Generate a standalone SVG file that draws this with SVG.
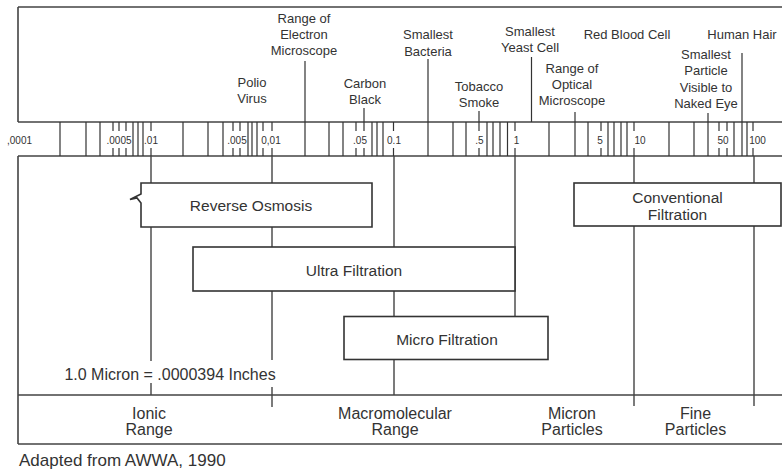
<svg xmlns="http://www.w3.org/2000/svg" width="782" height="471" viewBox="0 0 782 471">
<style>
.t{font-family:"Liberation Sans",Arial,sans-serif;fill:#333;text-anchor:middle}
.top{font-size:13px}
.sc{font-size:10px}
.bx{font-size:15.5px}
.bt{font-size:16px}
.fr{stroke:#444;stroke-width:1.6;fill:none}
.tk{stroke:#333;stroke-width:1.2;fill:none}
.cn{stroke:#444;stroke-width:1.4;fill:none}
.box{stroke:#333;stroke-width:1.6;fill:#fff}
</style>
<rect width="782" height="471" fill="#fff"/>
<g id="frame">
<path class="fr" d="M18,7 H782 M18,7 V122 M18,156 V444 M18,122 H782 M18,156 H782 M18,395 H782 M18,444 H782"/>
</g>
<g id="scale">
<path class="tk" d="M60,122V156M86,122V156M100,122V156M133,122V156M138,122V156M143,122V156
M183,122V156M208,122V156M223,122V156M248,122V156M252,122V156M257,122V156
M305,122V156M329,122V156M343,122V156M372,122V156M377,122V156M383,122V156
M428,122V156M453,122V156M466,122V156M487,122V156M493,122V156M500,122V156M507.5,122V156
M549,122V156M575,122V156M588,122V156M608,122V156M614,122V156M621,122V156M627,122V156
M669,122V156M694,122V156M708,122V156M734,122V156M742,122V156M747,122V156"/>
<path class="tk" d="M113,122V131M113,148V156M119,122V131M119,148V156M126,122V131M126,148V156M151,122V131M151,148V156
M233,122V131M233,148V156M240,122V131M240,148V156M263,122V131M263,148V156M272,122V131M272,148V156
M356,122V131M356,148V156M364,122V131M364,148V156M393.5,122V131M393.5,148V156
M479,122V131M479,148V156M515,122V131M515,148V156M601,122V131M601,148V156M634,122V131M634,148V156
M719,122V131M719,148V156M727,122V131M727,148V156M753,122V131M753,148V156"/>
<text class="t sc" x="7" y="144" style="text-anchor:start">,0001</text>
<text class="t sc" x="119" y="144">.0005</text>
<text class="t sc" x="151" y="144">.01</text>
<text class="t sc" x="237" y="144">.005</text>
<text class="t sc" x="271" y="144">0,01</text>
<text class="t sc" x="360" y="144">.05</text>
<text class="t sc" x="394" y="144">0.1</text>
<text class="t sc" x="479.5" y="144">.5</text>
<text class="t sc" x="516.5" y="144">1</text>
<text class="t sc" x="600" y="144">5</text>
<text class="t sc" x="640" y="144">10</text>
<text class="t sc" x="723" y="144">50</text>
<text class="t sc" x="757.5" y="144">100</text>
</g>
<g id="connectors">
<path class="tk" d="M305,61V122M364,108V122M428,59V122M479,111V122M531.5,57V122M575,112V122M708,113V122M742,53V122"/>
<path class="cn" d="M151,156V183M151,227V361M151,383V395
M272,156V183M272,227V247M272,291V360M272,387V407
M394,156V247M394,291V316.5M394,359.5V395
M515,156V316.5
M634,156V183M634,226V406
M754,156V183M754,226V406"/>
</g>
<g id="label-polio"><text class="t top" x="252" y="86.5">Polio</text><text class="t top" x="252" y="103">Virus</text></g>
<g id="label-electron"><text class="t top" x="304" y="23">Range of</text><text class="t top" x="304" y="39">Electron</text><text class="t top" x="304" y="55">Microscope</text></g>
<g id="label-carbon"><text class="t top" x="365" y="88">Carbon</text><text class="t top" x="365" y="104">Black</text></g>
<g id="label-bacteria"><text class="t top" x="428" y="39">Smallest</text><text class="t top" x="428" y="55.5">Bacteria</text></g>
<g id="label-tobacco"><text class="t top" x="479" y="91">Tobacco</text><text class="t top" x="479" y="106.5">Smoke</text></g>
<g id="label-yeast"><text class="t top" x="530" y="36">Smallest</text><text class="t top" x="530" y="51.5">Yeast Cell</text></g>
<g id="label-redblood"><text class="t top" x="627" y="39">Red Blood Cell</text></g>
<g id="label-optical"><text class="t top" x="572" y="73">Range of</text><text class="t top" x="572" y="88.5">Optical</text><text class="t top" x="572" y="104.5">Microscope</text></g>
<g id="label-nakedeye"><text class="t top" x="706" y="59">Smallest</text><text class="t top" x="706" y="75">Particle</text><text class="t top" x="706" y="91.5">Visible to</text><text class="t top" x="706" y="107.5">Naked Eye</text></g>
<g id="label-hair"><text class="t top" x="742" y="39">Human Hair</text></g>
<g id="box-ro">
<path class="box" d="M141,183 H372 V227 H141 V203 L137,198 L130,199.5 L141,194 Z"/>
<text class="t bx" x="251" y="211">Reverse Osmosis</text>
</g>
<g id="box-uf">
<rect class="box" x="193" y="247" width="322" height="44"/>
<text class="t bx" x="354" y="276">Ultra Filtration</text>
</g>
<g id="box-mf">
<rect class="box" x="344" y="316.5" width="204" height="43"/>
<text class="t bx" x="447" y="344.5">Micro Filtration</text>
</g>
<g id="box-cf">
<rect class="box" x="574" y="183" width="207" height="43"/>
<text class="t bx" x="677.5" y="203">Conventional</text>
<text class="t bx" x="677.5" y="219.5">Filtration</text>
</g>
<g id="note"><text class="t bt" x="170" y="380">1.0 Micron = .0000394 Inches</text></g>
<g id="range-ionic"><text class="t bt" x="149" y="418.5">Ionic</text><text class="t bt" x="149" y="434.5">Range</text></g>
<g id="range-macro"><text class="t bt" x="395" y="418.5">Macromolecular</text><text class="t bt" x="395" y="434.5">Range</text></g>
<g id="range-micron"><text class="t bt" x="572" y="418.5">Micron</text><text class="t bt" x="572" y="434.5">Particles</text></g>
<g id="range-fine"><text class="t bt" x="695.5" y="418.5">Fine</text><text class="t bt" x="695.5" y="434.5">Particles</text></g>
<g id="source"><text class="t" x="19" y="466" style="text-anchor:start;font-size:17px">Adapted from AWWA, 1990</text></g>
</svg>
